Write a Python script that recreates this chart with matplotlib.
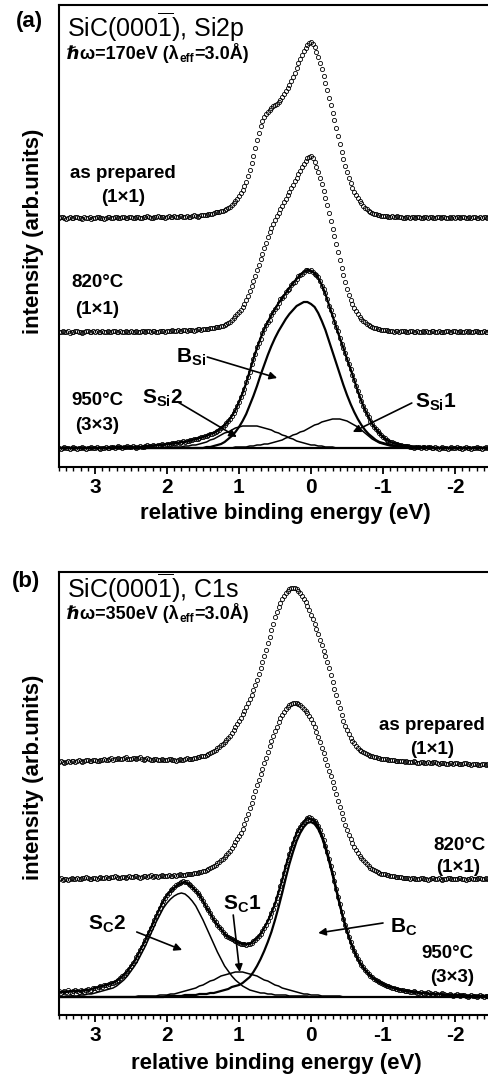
import numpy as np
import matplotlib
matplotlib.use('Agg')
import matplotlib.pyplot as plt
from matplotlib.ticker import MultipleLocator

plt.rcParams['font.family'] = ['Liberation Sans', 'DejaVu Sans']
plt.rcParams['mathtext.fontset'] = 'custom'
plt.rcParams['mathtext.rm'] = 'Liberation Sans'
plt.rcParams['mathtext.bf'] = 'Liberation Sans:bold'
plt.rcParams['mathtext.it'] = 'Liberation Sans:italic'

# relative binding energy (eV): measured points every 0.025 eV,
# fitted curves every 0.05 eV, both from 3.5 down to -2.5
E_START = 3.5
energy = E_START - 0.025 * np.arange(241)
energy_fit = E_START - 0.05 * np.arange(121)

# ---------------- (a) Si2p : intensity above each spectrum's baseline (arb. units)
si_prepared = [
    0, 1, 1, 0, -1, 0, 1, 0, 0, 1, 1, 0, 0, -1, 1, 0, 0, 1, -1, 0,
    0, 1, 1, 0, 0, -1, 0, 1, 1, 0, 0, 1, 1, 0, 0, 1, 1, 0, 0, 1,
    1, 0, 0, 1, 1, 0, 0, 1, 1, 2, 1, 0, 0, 1, 1, 2, 1, 1, 1, 0,
    1, 2, 1, 1, 2, 1, 1, 2, 2, 1, 1, 2, 1, 1, 2, 3, 2, 1, 2, 3,
    3, 3, 3, 4, 4, 4, 5, 6, 6, 6, 7, 7, 8, 9, 10, 11, 13, 15, 17, 19,
    22, 25, 28, 32, 36, 42, 48, 55, 62, 70, 78, 85, 92, 97, 101, 104, 106, 108, 110, 112,
    113, 114, 116, 118, 121, 124, 127, 130, 133, 137, 141, 145, 150, 155, 159, 163, 167, 170, 173, 175,
    176, 174, 171, 166, 161, 155, 149, 142, 135, 128, 120, 113, 105, 98, 90, 82, 74, 66, 59, 52,
    46, 40, 35, 30, 26, 23, 20, 17, 15, 12, 10, 9, 7, 6, 5, 4, 4, 3, 3, 2,
    2, 2, 2, 1, 1, 2, 1, 1, 2, 1, 1, 0, 0, 1, 1, 0, 1, 1, 0, 1,
    1, 0, 0, 1, 1, 0, 1, 1, 0, 0, 1, 1, 0, 1, 1, 0, 0, 1, 0, 1,
    0, 1, 1, 0, 1, 1, 0, 0, 1, 0, 1, 1, 0, 0, 1, 0, 1, 1, 0, 1,
    0]
si_820 = [
    0, 0, 1, 0, 0, 1, -1, 0, 0, 1, 1, 0, 0, -1, 0, 1, 1, 0, 0, 1,
    0, 1, 0, 0, 1, 0, 0, 1, 0, 0, 1, 1, 0, 0, 1, 0, 0, 1, 0, 0,
    1, 0, 0, 1, 0, 0, 1, 1, 0, 1, 1, 0, 1, 1, 0, 0, 1, 1, 1, 0,
    1, 1, 1, 2, 1, 1, 2, 1, 1, 2, 2, 1, 2, 2, 2, 1, 2, 3, 3, 2,
    3, 3, 3, 3, 4, 4, 4, 5, 5, 5, 6, 6, 7, 8, 9, 10, 12, 14, 16, 18,
    20, 22, 25, 28, 32, 36, 41, 46, 51, 56, 62, 67, 73, 78, 84, 89, 95, 100, 104, 108,
    112, 116, 119, 123, 126, 130, 133, 137, 140, 144, 147, 151, 154, 158, 161, 165, 168, 171, 174, 175,
    176, 174, 170, 165, 160, 154, 148, 141, 134, 127, 119, 111, 103, 96, 88, 80, 72, 64, 57, 50,
    43, 37, 32, 28, 24, 21, 18, 15, 13, 11, 10, 8, 7, 6, 5, 4, 4, 3, 3, 2,
    2, 2, 2, 1, 1, 1, 0, 1, 1, 0, 1, 1, 1, 0, 0, 1, 1, 0, 0, 1,
    0, 0, 1, 0, 1, 0, 0, 1, 1, 0, 0, 1, 0, 0, 0, 1, 1, 0, 0, 1,
    1, 0, 0, 1, 0, 0, 1, 0, 1, 0, 0, 1, 1, 0, 0, 0, 1, 0, 0, 1,
    0]
si_950 = [
    0, -1, 0, 1, 0, 0, -1, 0, 1, 0, -1, 0, 0, 1, 0, -1, 0, 0, 1, 0,
    0, 1, 0, -1, 0, 0, 1, 0, 0, 1, 1, 0, 1, 2, 1, 0, 1, 1, 2, 1,
    1, 2, 1, 0, 1, 2, 1, 1, 2, 3, 2, 2, 3, 2, 2, 3, 3, 4, 3, 3,
    4, 4, 4, 5, 5, 5, 6, 5, 6, 7, 6, 7, 7, 8, 8, 9, 9, 9, 10, 11,
    11, 12, 12, 13, 14, 14, 15, 16, 17, 18, 20, 21, 23, 25, 27, 29, 32, 35, 38, 42,
    46, 51, 55, 59, 66, 71, 76, 84, 89, 94, 101, 105, 109, 115, 119, 123, 126, 128, 133, 136,
    139, 141, 145, 149, 150, 152, 156, 158, 159, 163, 165, 166, 169, 172, 173, 174, 176, 178, 178, 177,
    178, 176, 174, 173, 171, 167, 162, 159, 155, 149, 142, 138, 133, 126, 121, 117, 110, 104, 100, 95,
    89, 84, 79, 73, 68, 62, 57, 52, 47, 42, 38, 34, 31, 27, 24, 21, 19, 17, 15, 13,
    11, 10, 8, 7, 6, 6, 5, 4, 4, 3, 3, 2, 2, 2, 2, 1, 1, 0, 1, 1,
    1, 0, 1, 1, 0, 1, 1, 0, 0, 1, 0, -1, 0, 1, 0, 0, -1, 0, 1, 0,
    0, 1, 0, 0, -1, 0, 1, 0, 0, -1, 0, 0, 1, 0, 0, -1, 0, 1, 0, 0,
    0]
# fit envelope and components for 950 C (0.05 eV grid)
si_950_fit = [
    0, 0, 0, 0, 0, 0, 0, 0, 0, 0,
    0, 0, 0, 0, 0, 1, 1, 1, 1, 1,
    1, 1, 1, 1, 2, 2, 2, 3, 3, 3,
    4, 4, 5, 5, 6, 6, 7, 8, 9, 10,
    11, 12, 14, 15, 17, 20, 23, 27, 32, 38,
    46, 55, 65, 77, 89, 100, 110, 119, 126, 133,
    139, 145, 150, 155, 160, 165, 169, 173, 176, 178,
    177, 175, 170, 163, 154, 143, 132, 121, 110, 100,
    89, 79, 68, 57, 47, 38, 31, 24, 19, 15,
    11, 8, 6, 5, 4, 3, 2, 2, 1, 1,
    1, 1, 1, 1, 0, 0, 0, 0, 0, 0,
    0, 0, 0, 0, 0, 0, 0, 0, 0, 0,
    0]
b_si = [
    0, 0, 0, 0, 0, 0, 0, 0, 0, 0,
    0, 0, 0, 0, 0, 0, 0, 0, 0, 0,
    0, 0, 0, 0, 0, 0, 0, 0, 0, 0,
    0, 0, 0, 0, 0, 0, 0, 0, 0, 0,
    0, 1, 1, 2, 3, 4, 6, 9, 12, 16,
    21, 27, 34, 43, 52, 62, 73, 83, 93, 102,
    110, 117, 123, 129, 134, 138, 142, 144, 146, 146,
    144, 141, 135, 127, 118, 107, 96, 85, 74, 63,
    53, 44, 36, 29, 23, 18, 14, 11, 8, 6,
    5, 4, 3, 2, 2, 1, 1, 0, 0, 0,
    0, 0, 0, 0, 0, 0, 0, 0, 0, 0,
    0, 0, 0, 0, 0, 0, 0, 0, 0, 0,
    0]
s_si2 = [
    0, 0, 0, 0, 0, 0, 0, 0, 0, 0,
    0, 0, 0, 0, 0, 0, 0, 0, 0, 0,
    0, 0, 0, 0, 0, 0, 0, 0, 0, 0,
    0, 0, 1, 1, 1, 2, 2, 3, 3, 4,
    5, 6, 8, 9, 11, 13, 15, 16, 18, 20,
    21, 22, 22, 22, 22, 22, 21, 20, 19, 18,
    16, 15, 13, 12, 10, 9, 7, 6, 5, 4,
    3, 3, 2, 2, 1, 1, 1, 0, 0, 0,
    0, 0, 0, 0, 0, 0, 0, 0, 0, 0,
    0, 0, 0, 0, 0, 0, 0, 0, 0, 0,
    0, 0, 0, 0, 0, 0, 0, 0, 0, 0,
    0, 0, 0, 0, 0, 0, 0, 0, 0, 0,
    0]
s_si1 = [
    0, 0, 0, 0, 0, 0, 0, 0, 0, 0,
    0, 0, 0, 0, 0, 0, 0, 0, 0, 0,
    0, 0, 0, 0, 0, 0, 0, 0, 0, 0,
    0, 0, 0, 0, 0, 0, 0, 0, 0, 0,
    0, 0, 0, 0, 0, 0, 0, 0, 0, 1,
    1, 1, 1, 2, 2, 3, 3, 4, 4, 5,
    6, 7, 8, 10, 11, 13, 14, 16, 17, 19,
    21, 23, 24, 26, 27, 28, 29, 29, 29, 28,
    27, 25, 23, 21, 18, 15, 12, 9, 7, 5,
    4, 3, 2, 2, 1, 1, 0, 0, 0, 0,
    0, 0, 0, 0, 0, 0, 0, 0, 0, 0,
    0, 0, 0, 0, 0, 0, 0, 0, 0, 0,
    0]
si_offsets = [230, 116, 0]   # as prepared, 820 C, 950 C

# ---------------- (b) C1s
c_prepared = [
    0, 1, 0, -1, 0, 1, 0, 1, 1, 0, 1, 2, 1, 0, 1, 2, 2, 1, 1, 2,
    2, 1, 1, 2, 2, 3, 2, 2, 3, 4, 2, 3, 3, 4, 3, 3, 4, 5, 3, 3,
    3, 4, 4, 3, 4, 5, 3, 2, 3, 4, 3, 2, 2, 3, 3, 2, 2, 3, 2, 2,
    2, 3, 3, 2, 2, 1, 2, 3, 2, 2, 3, 4, 3, 3, 3, 4, 4, 5, 5, 6,
    6, 6, 7, 8, 9, 10, 11, 12, 14, 15, 17, 18, 20, 22, 24, 26, 29, 32, 35, 38,
    41, 44, 48, 51, 55, 59, 63, 67, 72, 77, 82, 88, 94, 100, 106, 112, 119, 125, 132, 138,
    145, 150, 155, 159, 163, 166, 169, 171, 173, 174, 174, 174, 173, 171, 169, 166, 163, 160, 156, 152,
    147, 143, 138, 133, 128, 122, 117, 111, 106, 100, 94, 87, 80, 73, 67, 60, 54, 47, 41, 36,
    32, 28, 24, 21, 19, 16, 14, 12, 11, 10, 9, 8, 7, 6, 6, 5, 5, 4, 4, 3,
    3, 3, 3, 2, 2, 2, 2, 1, 1, 1, 1, 1, 0, 1, 0, 0, 0, 1, 0, -1,
    -1, 0, 0, -1, -1, 0, -1, -1, 0, 0, -1, -2, -1, -1, -1, -2, -2, -1, -1, -2,
    -1, -1, -2, -2, -2, -1, -1, -2, -2, -3, -2, -2, -2, -3, -3, -2, -2, -3, -2, -3,
    -3]
c_820 = [
    0, 1, -1, 0, 0, -1, 0, 1, 0, 0, 1, 0, 0, 1, 1, 2, 1, 0, 0, 1,
    1, 0, 1, 2, 1, 1, 2, 1, 1, 2, 2, 3, 2, 1, 1, 2, 2, 1, 2, 3,
    2, 2, 3, 3, 2, 1, 2, 3, 3, 2, 3, 4, 2, 3, 3, 2, 3, 4, 3, 3,
    3, 4, 3, 3, 4, 3, 4, 5, 4, 4, 4, 5, 5, 5, 5, 6, 6, 6, 7, 7,
    8, 8, 9, 10, 11, 12, 13, 14, 16, 17, 19, 20, 22, 24, 26, 28, 31, 34, 37, 40,
    43, 46, 50, 55, 60, 65, 71, 76, 82, 88, 94, 99, 105, 110, 116, 121, 127, 133, 138, 143,
    148, 152, 157, 161, 164, 167, 170, 172, 174, 175, 176, 176, 176, 175, 174, 172, 170, 168, 166, 163,
    160, 156, 152, 147, 142, 137, 131, 126, 120, 114, 108, 103, 97, 91, 85, 78, 72, 66, 60, 54,
    49, 44, 40, 36, 32, 29, 26, 23, 21, 19, 17, 15, 13, 11, 10, 9, 8, 7, 6, 5,
    5, 5, 4, 4, 3, 3, 3, 2, 2, 2, 2, 1, 1, 1, 1, 0, 1, 1, 0, 0,
    0, 1, 1, 0, 0, -1, 0, 1, 1, 0, 0, 1, 0, -1, 0, 0, 1, 1, 0, 0,
    0, 0, 1, 1, 0, 0, -1, 0, 0, 1, 0, 0, 0, 1, 1, 0, 0, 1, 0, 0,
    0]
c_950 = [
    6, 4, 5, 6, 5, 7, 5, 4, 6, 7, 6, 5, 7, 6, 5, 7, 8, 6, 7, 9,
    9, 8, 10, 11, 10, 12, 12, 11, 13, 14, 14, 15, 16, 17, 19, 21, 22, 24, 26, 28,
    31, 34, 36, 40, 43, 47, 50, 54, 57, 61, 65, 69, 73, 77, 81, 85, 89, 93, 96, 99,
    102, 104, 107, 108, 110, 112, 113, 114, 115, 116, 115, 115, 113, 112, 110, 108, 106, 104, 102, 99,
    96, 92, 89, 87, 84, 80, 77, 75, 72, 70, 68, 65, 63, 61, 60, 59, 58, 57, 56, 55,
    54, 53, 53, 53, 52, 53, 53, 54, 56, 57, 59, 61, 63, 66, 69, 72, 76, 80, 84, 88,
    93, 99, 105, 111, 117, 124, 131, 137, 143, 149, 154, 159, 164, 167, 170, 173, 175, 177, 179, 180,
    179, 177, 176, 174, 171, 167, 162, 157, 151, 145, 138, 131, 124, 116, 108, 100, 93, 85, 78, 72,
    66, 60, 55, 50, 46, 42, 38, 35, 32, 30, 27, 25, 23, 21, 20, 18, 17, 16, 15, 14,
    13, 12, 11, 11, 10, 9, 9, 8, 8, 7, 7, 7, 6, 6, 6, 5, 5, 6, 5, 4,
    4, 5, 4, 3, 4, 5, 4, 3, 3, 4, 3, 2, 3, 4, 3, 2, 2, 3, 2, 1,
    2, 3, 2, 1, 2, 2, 1, 0, 1, 2, 1, 1, 0, 1, 2, 1, 0, 1, 1, 0,
    1]
c_950_fit = [
    5, 5, 5, 6, 6, 6, 6, 7, 7, 8,
    9, 10, 11, 12, 13, 14, 16, 19, 22, 26,
    31, 36, 43, 50, 57, 65, 73, 81, 89, 96,
    102, 106, 109, 112, 114, 115, 113, 110, 106, 102,
    96, 89, 84, 77, 72, 68, 63, 60, 58, 56,
    54, 53, 53, 53, 56, 59, 63, 69, 76, 84,
    93, 105, 117, 131, 143, 154, 164, 170, 175, 179,
    178, 176, 171, 162, 151, 138, 124, 108, 93, 78,
    66, 55, 46, 38, 32, 27, 23, 20, 17, 15,
    13, 11, 10, 9, 8, 7, 6, 6, 5, 5,
    4, 4, 4, 3, 3, 3, 3, 2, 2, 2,
    2, 2, 2, 1, 1, 1, 1, 1, 1, 1,
    1]
b_c = [
    0, 0, 0, 0, 0, 0, 0, 0, 0, 0,
    0, 0, 0, 0, 0, 0, 0, 0, 0, 0,
    0, 0, 0, 0, 0, 0, 0, 0, 0, 0,
    1, 1, 1, 1, 1, 2, 2, 2, 2, 3,
    3, 3, 4, 4, 5, 6, 7, 8, 10, 11,
    12, 14, 17, 20, 25, 31, 38, 46, 55, 65,
    77, 90, 104, 119, 133, 145, 156, 164, 170, 174,
    175, 173, 168, 160, 149, 136, 122, 107, 92, 78,
    66, 55, 46, 38, 32, 27, 23, 20, 17, 15,
    13, 11, 10, 9, 8, 7, 6, 6, 5, 5,
    4, 4, 4, 3, 3, 3, 3, 2, 2, 2,
    2, 2, 2, 1, 1, 1, 1, 1, 1, 1,
    1]
s_c1 = [
    0, 0, 0, 0, 0, 0, 0, 0, 0, 0,
    0, 0, 0, 0, 0, 0, 0, 0, 0, 0,
    0, 0, 1, 1, 1, 1, 1, 1, 2, 2,
    2, 3, 3, 4, 5, 6, 7, 8, 9, 11,
    12, 14, 16, 17, 19, 21, 22, 23, 24, 25,
    25, 25, 24, 23, 22, 21, 19, 17, 16, 14,
    12, 11, 9, 8, 7, 6, 5, 4, 3, 3,
    2, 2, 2, 1, 1, 1, 1, 1, 1, 0,
    0, 0, 0, 0, 0, 0, 0, 0, 0, 0,
    0, 0, 0, 0, 0, 0, 0, 0, 0, 0,
    0, 0, 0, 0, 0, 0, 0, 0, 0, 0,
    0, 0, 0, 0, 0, 0, 0, 0, 0, 0,
    0]
s_c2 = [
    0, 0, 1, 1, 1, 1, 2, 2, 3, 3,
    4, 5, 6, 7, 8, 9, 11, 14, 17, 21,
    26, 31, 37, 44, 51, 59, 67, 75, 82, 89,
    94, 98, 101, 103, 104, 103, 100, 96, 91, 84,
    77, 69, 61, 53, 45, 38, 31, 26, 21, 17,
    14, 11, 9, 7, 6, 5, 4, 4, 3, 3,
    2, 2, 2, 2, 1, 1, 1, 1, 1, 1,
    0, 0, 0, 0, 0, 0, 0, 0, 0, 0,
    0, 0, 0, 0, 0, 0, 0, 0, 0, 0,
    0, 0, 0, 0, 0, 0, 0, 0, 0, 0,
    0, 0, 0, 0, 0, 0, 0, 0, 0, 0,
    0, 0, 0, 0, 0, 0, 0, 0, 0, 0,
    0]
c_offsets = [235, 118, 0]

tick_values = [3, 2, 1, 0, -1, -2]
tick_labels = ['3', '2', '1', '0', '-1', '-2']

BOLD = dict(fontweight='bold')
ARROW = dict(arrowstyle='-|>', color='k', lw=1.2, mutation_scale=11,
             shrinkA=0, shrinkB=0)


def draw_panel(ax, spectra, offsets, fit, big_comp, small_comps, ylim):
    # fit envelope and components on the 950 C spectrum
    ax.plot(energy_fit, fit, 'k-', lw=1.6, zorder=2)
    ax.plot(energy_fit, big_comp, 'k-', lw=1.6, zorder=2)
    for comp in small_comps:
        ax.plot(energy_fit, comp, 'k-', lw=1.1, zorder=2)
    ax.axhline(0, color='k', lw=1.6, zorder=2)
    # open circles for measured spectra
    for y, off in zip(spectra, offsets):
        ax.plot(energy, np.asarray(y) + off, 'o', ms=3.0, mfc='none',
                mec='k', mew=0.6, zorder=3)

    ax.set_xlim(3.5, -2.5)
    ax.set_ylim(*ylim)
    ax.set_xticks(tick_values)
    ax.set_xticklabels(tick_labels, fontsize=15, fontweight='bold')
    ax.xaxis.set_minor_locator(MultipleLocator(0.1))
    ax.tick_params(axis='x', which='major', direction='out', length=5,
                   width=1.3, pad=3)
    ax.tick_params(axis='x', which='minor', direction='out', length=2.6,
                   width=1.0)
    ax.tick_params(axis='y', left=False, labelleft=False)
    for side in ['left', 'top', 'bottom']:
        ax.spines[side].set_linewidth(1.5)
    ax.spines['right'].set_visible(False)


fig = plt.figure(figsize=(4.88, 10.8), dpi=100)
W, H = 488, 1080
ax_a = fig.add_axes([59 / W, 1 - 467 / H, 432 / W, 462 / H])
ax_b = fig.add_axes([59 / W, 1 - 1015 / H, 432 / W, 443 / H])

draw_panel(ax_a, [si_prepared, si_820, si_950], si_offsets, si_950_fit,
           b_si, [s_si1, s_si2], (-19, 443))
draw_panel(ax_b, [c_prepared, c_820, c_950], c_offsets, c_950_fit,
           b_c, [s_c1, s_c2], (-18, 425))

# ---- panel (a) labels
lab = dict(fontsize=13.5, ha='center', va='center', **BOLD)
ax_a.text(2.61, 275, 'as prepared', **lab)
ax_a.text(2.61, 250, '(1×1)', **lab)
ax_a.text(2.97, 165, '820°C', **lab)
ax_a.text(2.97, 138, '(1×1)', **lab)
ax_a.text(2.97, 47, '950°C', **lab)
ax_a.text(2.97, 22, '(3×3)', **lab)

ann = dict(fontsize=15, ha='left', va='baseline', **BOLD)
ax_a.text(1.88, 85, r'B$_{\mathbf{Si}}$', **ann)
ax_a.annotate('', xy=(0.47, 70), xytext=(1.44, 91), arrowprops=ARROW)
ax_a.text(2.35, 44, r'S$_{\mathbf{Si}}$2', **ann)
ax_a.annotate('', xy=(1.03, 11), xytext=(1.85, 46), arrowprops=ARROW)
ax_a.text(-1.44, 40, r'S$_{\mathbf{Si}}$1', **ann)
ax_a.annotate('', xy=(-0.58, 16), xytext=(-1.40, 45), arrowprops=ARROW)

# ---- panel (b) labels
ax_b.text(-1.68, 272, 'as prepared', **lab)
ax_b.text(-1.68, 247, '(1×1)', **lab)
ax_b.text(-2.06, 152, '820°C', **lab)
ax_b.text(-2.04, 129, '(1×1)', **lab)
ax_b.text(-1.90, 44, '950°C', **lab)
ax_b.text(-1.96, 20, '(3×3)', **lab)

ax_b.text(3.10, 67, r'S$_{\mathbf{C}}$2', **ann)
ax_b.annotate('', xy=(1.79, 47), xytext=(2.42, 65), arrowprops=ARROW)
ax_b.text(1.22, 87, r'S$_{\mathbf{C}}$1', **ann)
ax_b.annotate('', xy=(0.99, 25), xytext=(1.08, 82), arrowprops=ARROW)
ax_b.text(-1.10, 64, r'B$_{\mathbf{C}}$', **ann)
ax_b.annotate('', xy=(-0.10, 64), xytext=(-1.0, 74), arrowprops=ARROW)


# ---- figure-level texts (pixel positions converted to figure fractions)
def ftext(x, y, s, **kw):
    return fig.text(x / W, 1 - y / H, s, **kw)


renderer = fig.canvas.get_renderer()


def text_run(x, y, pieces):
    """Plain-text pieces laid left to right: (string, fontsize, drop in px)."""
    for s, size, drop in pieces:
        t = ftext(x, y + drop, s, fontsize=size, ha='left', va='baseline',
                  **BOLD)
        x = t.get_window_extent(renderer).x1 + 0.5


ftext(29, 22, '(a)', fontsize=16, ha='center', va='center', **BOLD)
ftext(26, 582, '(b)', fontsize=16, ha='center', va='center', **BOLD)
ftext(67, 37, r'SiC(000$\overline{\mathregular{1}}$), Si2p', fontsize=18,
      ha='left', va='baseline')
text_run(67, 59, [('ℏω=170eV (λ', 13, 0), ('eff', 8.5, 3), ('=3.0Å)', 13, 0)])
ftext(67, 598, r'SiC(000$\overline{\mathregular{1}}$), C1s', fontsize=18,
      ha='left', va='baseline', zorder=5)
text_run(67, 619, [('ℏω=350eV (λ', 13, 0), ('eff', 8.5, 3), ('=3.0Å)', 13, 0)])

ftext(285, 513, 'relative binding energy (eV)', fontsize=16, ha='center',
      va='center', **BOLD)
ftext(276, 1063, 'relative binding energy (eV)', fontsize=16, ha='center',
      va='center', **BOLD)
ftext(34, 231, 'intensity (arb.units)', fontsize=16, rotation=90,
      ha='center', va='center', **BOLD)
ftext(34, 777, 'intensity (arb.units)', fontsize=16, rotation=90,
      ha='center', va='center', **BOLD)

fig.savefig('out.png', dpi=100)
